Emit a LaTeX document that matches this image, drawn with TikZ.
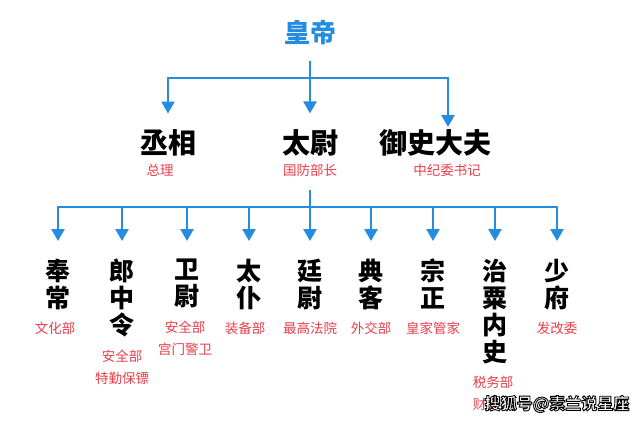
\documentclass[tikz,border=0pt]{standalone}
\usepackage{fontspec}
\newfontfamily\cjk{Noto Sans CJK SC}
\usetikzlibrary{arrows.meta,positioning}
\definecolor{lineblue}{RGB}{38,140,222}
\definecolor{notered}{RGB}{230,64,76}
\newcommand\outlined[1]{\special{pdf:literal direct 2 Tr 0.9 w 0 0 0 RG}#1\special{pdf:literal direct 0 Tr}}
\begin{document}
\begin{tikzpicture}
  [x=1pt,y=-1pt,node distance=12pt,
   conn/.style={lineblue,line width=2.4pt},
   arr/.style={conn,-{Triangle[width=13pt,length=12pt]}},
   top/.style={font=\cjk\bfseries\fontsize{26}{28}\selectfont,text=lineblue,inner sep=0pt},
   title/.style={font=\cjk\bfseries\fontsize{28}{30}\selectfont,inner sep=0pt},
   office/.style={font=\cjk\bfseries\fontsize{25}{27}\selectfont,align=center,inner sep=0pt},
   note/.style={font=\cjk\fontsize{13.5}{22}\selectfont,text=notered,align=center,inner sep=0pt}]
\useasboundingbox[fill=white] (0,0) rectangle (640,424);
% emperor
\node (hd) [top] at (310,32) {皇帝};
\coordinate (j1) at (310,78);
\draw[conn,shorten <=16pt] (hd) -- (j1);
% three ministers
\node (cx)[title] at (168,143) {丞相};
\node (tw)[title] at (310,143) {太尉};
\node (ys)[title] at (435,143) {御史大夫};
\node (cx-n)[note] at (160,170) {总理};
\node (tw-n)[note] at (310,170) {国防部长};
\node (ys-n)[note] at (447,170) {中纪委书记};
\draw[arr,shorten >=16pt] (j1) -| (cx);
\draw[arr,shorten >=16pt] (j1) -- (tw);
\draw[arr,shorten >=16pt] (j1) -| ([xshift=13pt]ys.center);
% nine ministers
\coordinate (j2) at (310,207);
\draw[conn,shorten <=14pt] (tw-n) -- (j2);
\foreach \n/\x/\t in {o1/58/奉\\常, o2/122/郎\\中\\令, o3/187/卫\\尉,
    o4/249/太\\仆, o5/310/廷\\尉, o6/371/典\\客, o7/433/宗\\正,
    o8/495/治\\粟\\内\\史, o9/557/少\\府}
  {
  \node (\n)[office,anchor=north] at (\x,259) {\t};
  \draw[arr,shorten >=18pt] (j2) -| (\n);
  }
\node (o1-n)[note,below=of o1,xshift=-3pt] {文化部};
\node (o2-n)[note,below=of o2] {安全部\\特勤保镖};
\node (o3-n)[note,below=of o3,xshift=-2pt] {安全部\\宫门警卫};
\node (o4-n)[note,below=of o4,xshift=-4pt] {装备部};
\node (o5-n)[note,below=of o5] {最高法院};
\node (o6-n)[note,below=of o6] {外交部};
\node (o7-n)[note,below=of o7] {皇家管家};
\node (o8-n)[note,below=of o8,xshift=-2pt,node distance=7pt] {税务部\\财政部};
\node (o9-n)[note,below=of o9] {发改委};
% watermark
\node (wm)[font=\cjk\bfseries\fontsize{16}{18}\selectfont,text=white,inner sep=0pt] at (557,404)
  {\outlined{搜狐号@素兰说星座}};
\end{tikzpicture}
\end{document}
